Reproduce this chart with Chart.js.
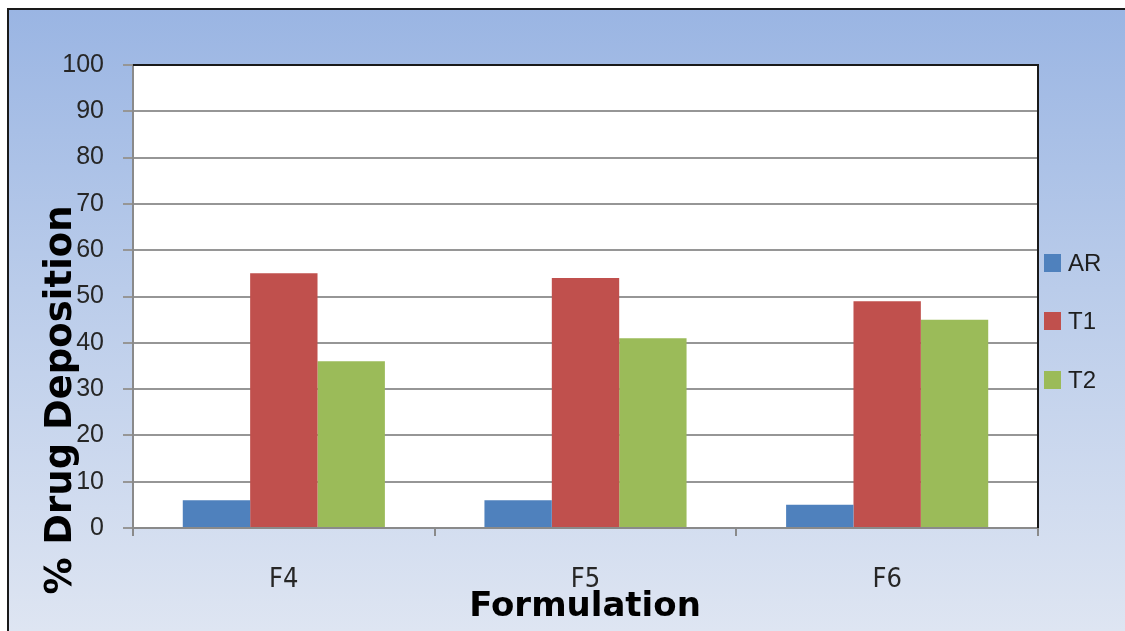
<!DOCTYPE html>
<html>
<head>
<meta charset="utf-8">
<title>% Drug Deposition by Formulation</title>
<script src="https://cdn.jsdelivr.net/npm/chart.js@4/dist/chart.umd.min.js"></script>
<style>
  html, body { margin: 0; padding: 0; background: #ffffff; }
  canvas { display: block; }
</style>
</head>
<body>
<canvas id="chart" width="1125" height="631"></canvas>
<script>
// Formulations and the deposition measured at each site (%)
const categories = ['F4', 'F5', 'F6'];
const seriesNames = ['AR', 'T1', 'T2'];
const arValues = [6, 6, 5];
const t1Values = [55, 54, 49];
const t2Values = [36, 41, 45];
const seriesColors = ['#4F81BD', '#C0504D', '#9BBB59'];
const yTitle = '% Drug Deposition';
const xTitle = 'Formulation';

const tickFont = "'Liberation Sans', Arial, sans-serif";
const narrowFont = "'Liberation Sans Narrow', 'DejaVu Sans Condensed', 'Liberation Sans', sans-serif";
const titleFont = "'DejaVu Sans', Verdana, sans-serif";

// Gradient frame behind the whole chart, plot box edges, legend and axis titles
const framePlugin = {
  id: 'frame',
  beforeDraw(chart) {
    const ctx = chart.ctx;
    const w = chart.width, h = chart.height;
    ctx.save();
    ctx.fillStyle = '#ffffff';
    ctx.fillRect(0, 0, w, h);
    const g = ctx.createLinearGradient(0, 9, 0, h);
    g.addColorStop(0, '#9AB5E3');
    g.addColorStop(0.45, '#BACCEA');
    g.addColorStop(1, '#DEE5F2');
    ctx.fillStyle = g;
    ctx.fillRect(8, 9, w - 8, h - 9);
    ctx.strokeStyle = '#1a1a1a';
    ctx.lineWidth = 2;
    ctx.strokeRect(8, 9, w + 10, h + 10);
    // white plot background
    const a = chart.chartArea;
    ctx.fillStyle = '#ffffff';
    ctx.fillRect(a.left, a.top, a.right - a.left, a.bottom - a.top);
    ctx.restore();
  },
  afterDraw(chart) {
    const ctx = chart.ctx;
    const a = chart.chartArea;
    ctx.save();
    // dark top and right edges of the plot box
    ctx.strokeStyle = '#1a1a1a';
    ctx.lineWidth = 2;
    ctx.beginPath();
    ctx.moveTo(a.left, a.top);
    ctx.lineTo(a.right, a.top);
    ctx.lineTo(a.right, a.bottom);
    ctx.stroke();

    // legend
    const items = chart.data.datasets;
    const ys = [263, 321, 380];
    ctx.font = "24px " + tickFont;
    ctx.textBaseline = 'middle';
    ctx.textAlign = 'left';
    items.forEach((ds, i) => {
      ctx.fillStyle = ds.backgroundColor;
      ctx.fillRect(1044, ys[i] - 9, 17, 18);
      ctx.fillStyle = '#1e1e1e';
      ctx.fillText(ds.label, 1068, ys[i] + 1);
    });

    // axis titles
    ctx.fillStyle = '#000000';
    ctx.font = "bold 37px " + titleFont;
    ctx.textAlign = 'center';
    ctx.textBaseline = 'middle';
    ctx.save();
    ctx.translate(61, 400);
    ctx.rotate(-Math.PI / 2);
    ctx.fillText(yTitle, 0, 0);
    ctx.restore();

    ctx.font = "bold 34px " + titleFont;
    ctx.textBaseline = 'alphabetic';
    ctx.fillText(xTitle, 585, 616);
    ctx.restore();
  }
};

const valueSets = [arValues, t1Values, t2Values];

new Chart(document.getElementById('chart'), {
  type: 'bar',
  data: {
    labels: categories,
    datasets: seriesNames.map((name, i) => ({
      label: name,
      data: valueSets[i],
      backgroundColor: seriesColors[i],
      borderWidth: 0,
      categoryPercentage: 0.67,
      barPercentage: 1.0
    }))
  },
  options: {
    responsive: false,
    animation: false,
    devicePixelRatio: 1,
    layout: { padding: { top: 65, right: 87, left: 0, bottom: 0 } },
    plugins: {
      legend: { display: false },
      tooltip: { enabled: false }
    },
    scales: {
      x: {
        offset: true,
        grid: {
          offset: true,
          drawOnChartArea: false,
          drawTicks: true,
          tickLength: 8,
          color: '#8a8a8a',
          lineWidth: 2
        },
        border: { color: '#8a8a8a', width: 2 },
        ticks: {
          font: { family: narrowFont, size: 27 },
          color: '#262626',
          padding: 28,
          maxRotation: 0
        },
        afterFit(scale) { scale.height = 103; }
      },
      y: {
        min: 0,
        max: 100,
        ticks: {
          stepSize: 10,
          font: { family: tickFont, size: 25 },
          color: '#262626',
          padding: 19
        },
        grid: {
          color: '#969696',
          lineWidth: 2,
          drawTicks: true,
          tickLength: 10
        },
        border: { color: '#8a8a8a', width: 2 },
        afterFit(scale) { scale.width = 133; }
      }
    }
  },
  plugins: [framePlugin]
});
</script>
</body>
</html>
